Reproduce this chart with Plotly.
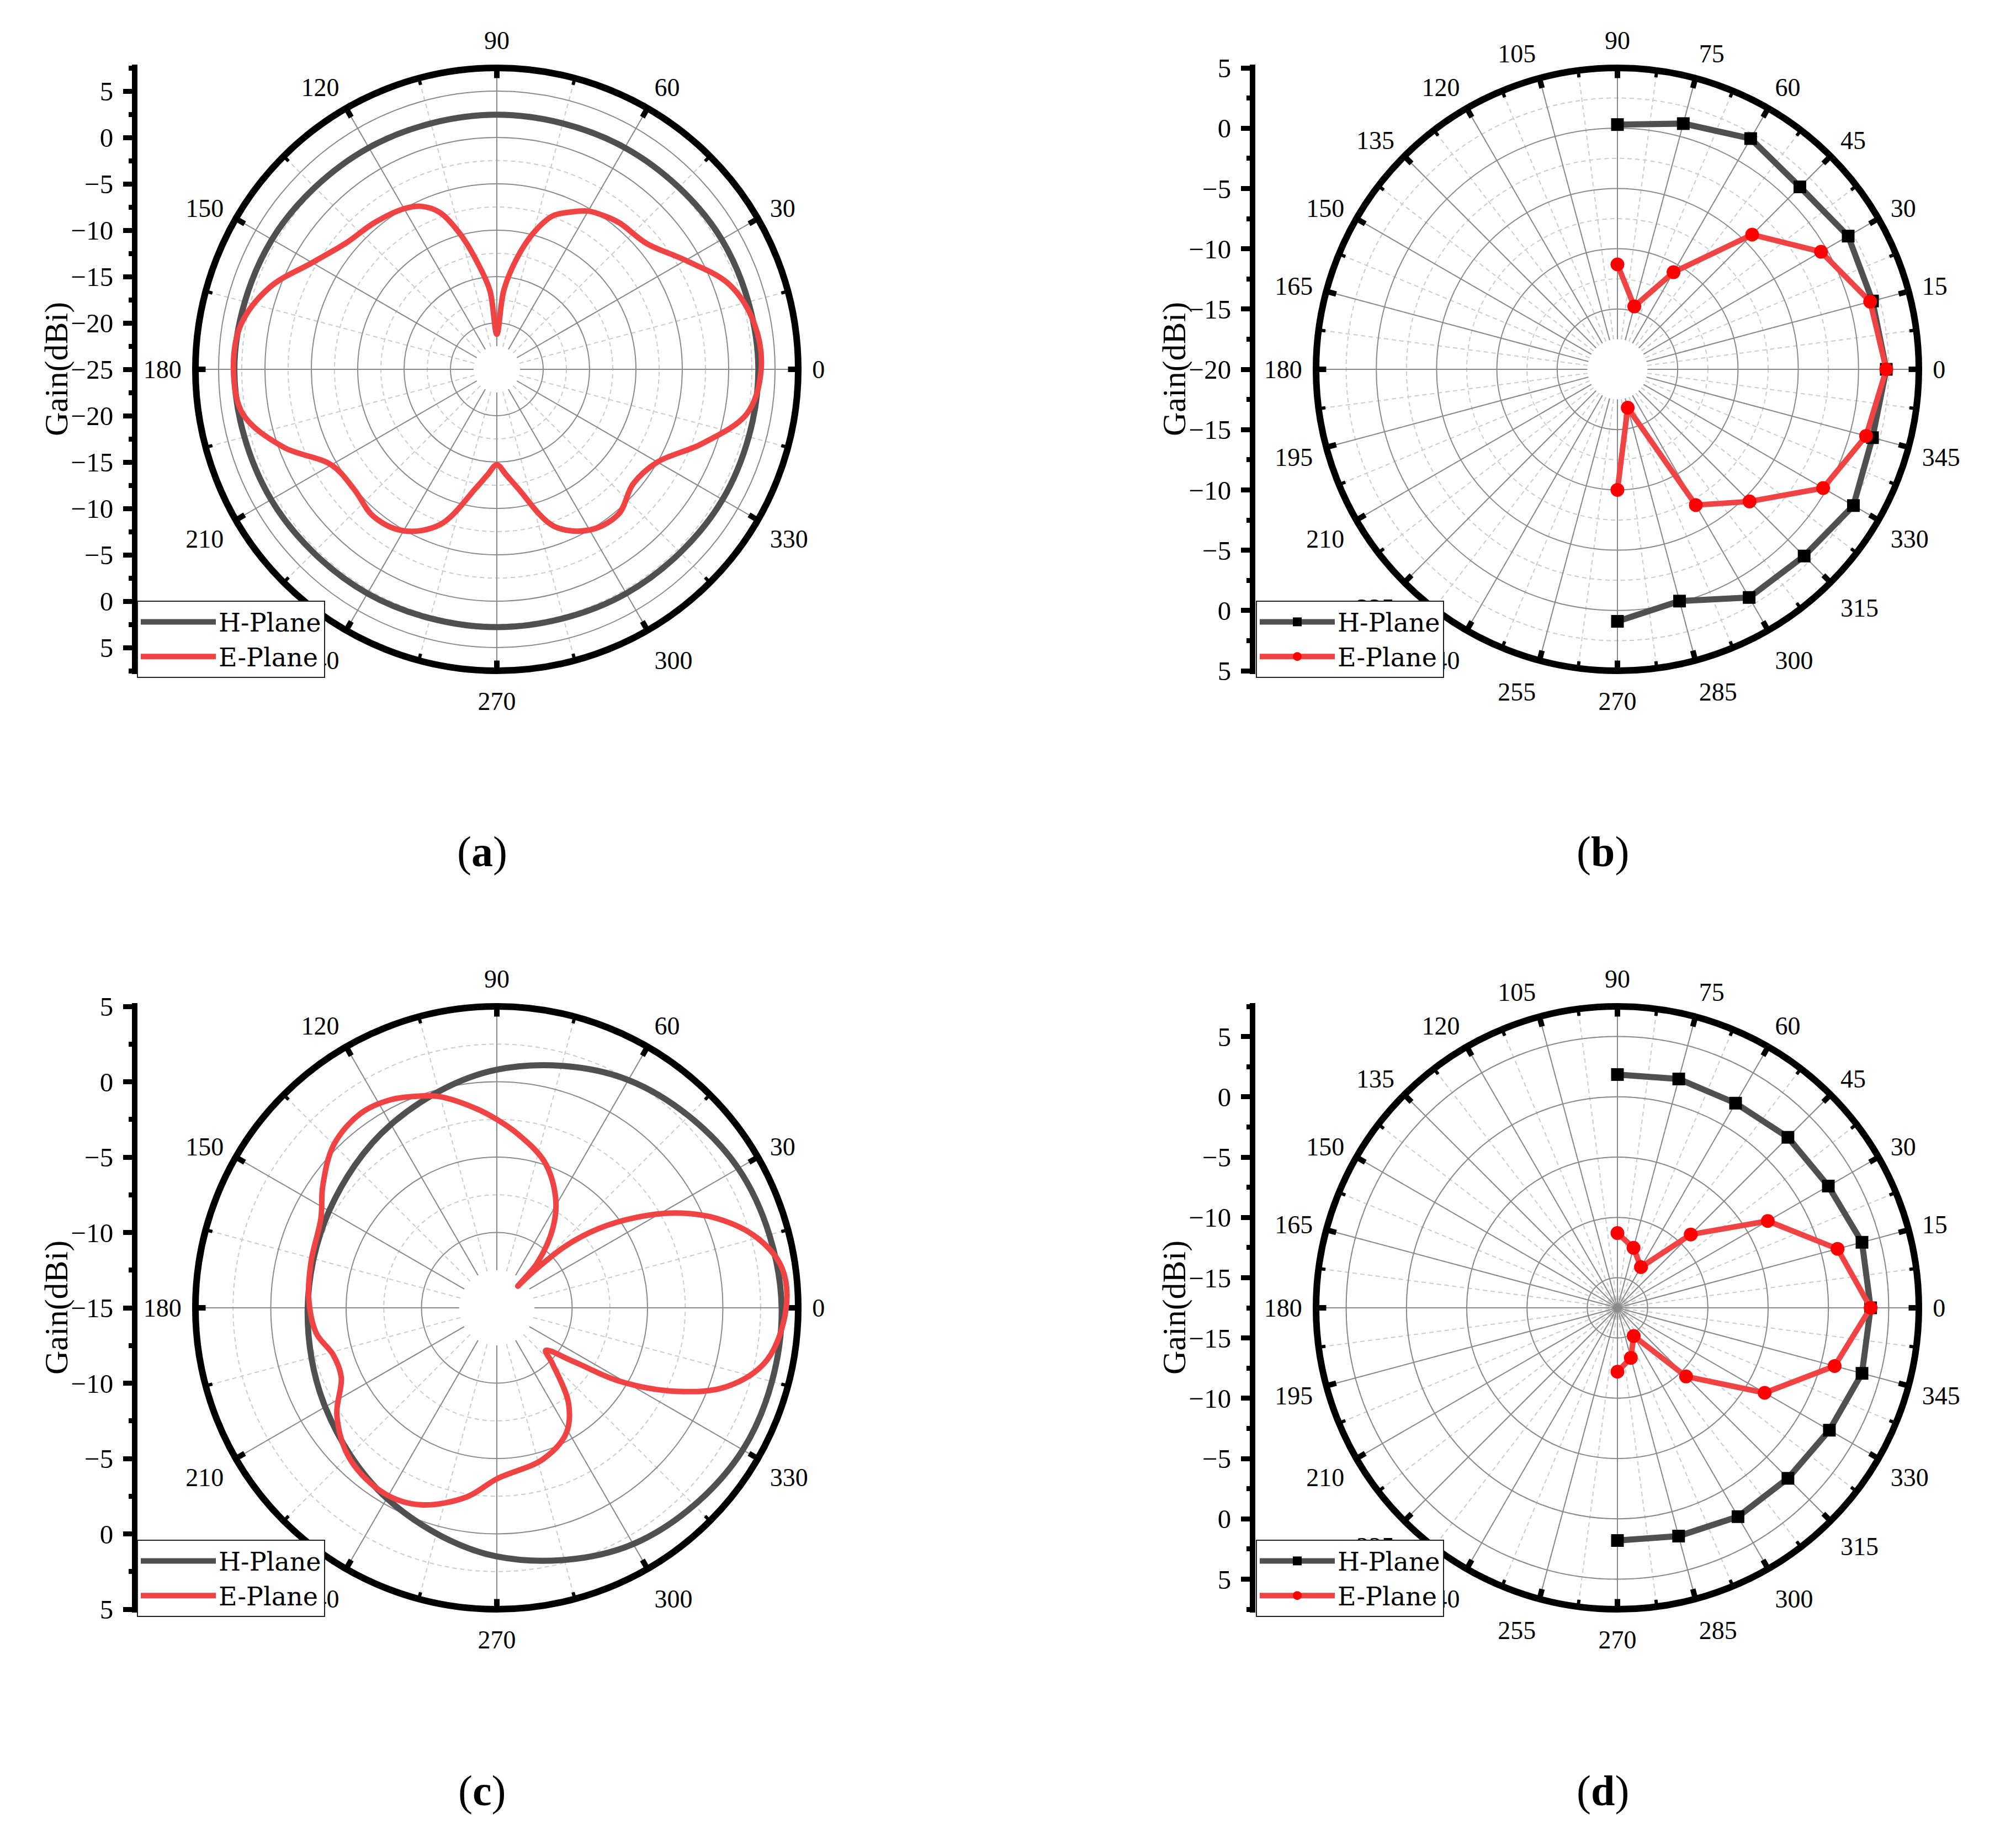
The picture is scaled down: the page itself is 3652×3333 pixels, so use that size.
import plotly.graph_objects as go

W, H = 3652, 3333
OFF = 8  # default page margin around the plot div
FONT = "Liberation Serif"
R = 546  # ring radius in px

# ---------------- data (angle in deg, gain in dBi) ----------------
# (a)
a_h_theta = [0, 30, 60, 90, 120, 150, 180, 210, 240, 270, 300, 330, 360]
a_h_gain = [3.2, 3.0, 2.6, 2.45, 2.6, 3.0, 3.3, 3.1, 2.9, 2.8, 2.9, 3.1, 3.2]
a_e_theta = [0, 10, 20, 30, 40, 50, 55, 60, 65, 70, 75, 80, 85, 90, 95, 100, 105, 110, 115, 120,
             130, 140, 150, 160, 170, 180, 190, 200, 210, 220, 230, 240, 250, 260, 265, 270,
             275, 280, 290, 300, 310, 320, 330, 340, 350, 360]
a_e_gain = [3.5, 3.2, 1.7, -1.5, -3.9, -4.4, -4.8, -5.3, -6.3, -7.4, -9.8, -13.0, -16.5, -21.2,
            -16.5, -13.5, -10.0, -7.0, -5.6, -5.0, -4.4, -3.8, -2.0, 1.0, 3.0, 3.4, 2.8, -0.5,
            -4.4, -4.9, -4.3, -4.9, -7.2, -12.0, -13.6, -14.7, -13.6, -12.0, -7.0, -5.0, -4.6,
            -5.8, -5.0, -1.5, 2.4, 3.5]

# (b)
b_theta = [90, 75, 60, 45, 30, 15, 0, -15, -30, -45, -60, -75, -90]
b_h_gain = [0.3, 1.1, 2.1, 1.4, 2.1, 1.9, 2.3, 1.9, 2.6, 1.9, 1.85, -0.1, 0.9]
b_e_gain = [-11.3, -14.6, -10.7, -4.2, -0.5, 1.7, 2.3, 1.35, -0.3, -4.5, -7.0, -16.7, -10.0]

# (c)
c_h_theta = [0, 30, 60, 90, 120, 150, 180, 210, 240, 270, 300, 330, 360]
c_h_gain = [3.9, 3.5, 2.45, 0.8, -0.95, -2.15, -2.45, -1.85, -0.4, 1.5, 3.1, 3.85, 3.9]
c_e_theta = [0, 8, 15, 22, 28, 33, 38, 42, 45, 46, 48, 55, 62, 72, 83, 90, 96, 105, 110, 117,
             125, 135, 145, 153, 166, 177, 188, 196, 204, 214, 226, 239, 249, 261, 270, 287,
             299, 307, 315, 319, 325, 329, 335, 341, 349, 360]
c_e_gain = [4.2, 4.1, 2.9, 0.8, -1.6, -4.0, -6.5, -8.9, -11.8, -13.0, -11.0, -8.5, -6.7, -4.8,
            -3.4, -2.5, -1.7, -0.5, -0.05, 0.5, 0.75, 0.3, -0.9, -1.9, -2.3, -2.5, -2.9, -3.7,
            -3.7, -2.2, -1.0, -0.6, -1.0, -2.3, -3.65, -4.5, -5.5, -7.1, -9.8, -10.7, -8.8,
            -5.6, -1.9, 1.1, 3.25, 4.2]

# (d)
d_theta = [90, 75, 60, 45, 30, 15, 0, -15, -30, -45, -60, -75, -90]
d_h_gain = [1.85, 2.15, 2.1, 2.5, 2.7, 3.5, 3.5, 3.5, 2.8, 2.5, 2.5, 2.1, 1.8]
d_e_gain = [-11.3, -12.35, -13.6, -8.9, -3.1, 1.4, 3.5, 1.15, -3.4, -9.45, -14.8, -13.2, -12.2]

# left-axis tick labels (mirrored radial scale)
a_axis_vals = [-30, -25, -20, -15, -10, -5, 0, 5, 10, 15, 20, 25, 30]
a_axis_text = ["5", "0", "−5", "−10", "−15", "−20", "−25", "−20", "−15", "−10", "−5", "0", "5"]
b_axis_vals = [-25, -20, -15, -10, -5, 0, 5, 10, 15, 20, 25]
b_axis_text = ["5", "0", "−5", "−10", "−15", "−20", "−15", "−10", "−5", "0", "5"]
c_axis_vals = [-20, -15, -10, -5, 0, 5, 10, 15, 20]
c_axis_text = ["5", "0", "−5", "−10", "−15", "−10", "−5", "0", "5"]
d_axis_vals = [-22.5, -17.5, -12.5, -7.5, -2.5, 2.5, 7.5, 12.5, 17.5, 22.5]
d_axis_text = ["5", "0", "−5", "−10", "−15", "−15", "−10", "−5", "0", "5"]

H_COLOR = "#505050"
E_COLOR = "#f04343"

fig = go.Figure()
layout = {}
annotations = []
polar_count = [0]


def px_x(x):
    return (x - OFF) / W


def px_y(y):
    return 1 - (y - OFF) / H


def new_polar():
    polar_count[0] += 1
    k = polar_count[0]
    return "polar" if k == 1 else "polar%d" % k


def add_panel(n, cx, cy, c, top, hole, major, minor, ax_x, ax_vals, ax_text, minor0,
              h_theta, h_gain, e_theta, e_gain, markers, leg_xy, caption, cap_xy):
    dom = dict(x=[px_x(cx - R), px_x(cx + R)], y=[px_y(cy + R), px_y(cy - R)])
    inner = c + 2.5 if hole else c
    hole_frac = (inner - c) / (top - c)
    dashed_r = [c + 2.5 + 5 * i for i in range(20) if c + 2.5 + 5 * i < top - 0.1]
    solid_r = [v for v in range(-40, 10, 5) if c < v < top - 0.1]
    major_t = [major * i for i in range(int(360 / major))]
    minor_t = [minor * i for i in range(int(360 / minor))]

    # dashed minor grid + minor ring ticks
    p1 = new_polar()
    layout[p1] = dict(
        domain=dom, hole=hole_frac, bgcolor="white",
        radialaxis=dict(range=[inner, top], tickmode="array", tickvals=dashed_r,
                        showticklabels=False, ticks="", showline=False,
                        gridcolor="#cccccc", gridwidth=1.5, griddash="8px,6px"),
        angularaxis=dict(tickmode="array", tickvals=minor_t,
                         showticklabels=False, ticks="inside", ticklen=12, tickwidth=6,
                         tickcolor="black", showline=False,
                         gridcolor="#cccccc", gridwidth=1.5, griddash="8px,6px"),
    )
    fig.add_trace(go.Scatterpolar(r=[None], theta=[None], subplot=p1, showlegend=False,
                                  hoverinfo="skip", mode="lines"))
    # solid major grid + major ring ticks
    p2 = new_polar()
    layout[p2] = dict(
        domain=dom, hole=hole_frac, bgcolor="rgba(0,0,0,0)",
        radialaxis=dict(range=[inner, top], tickmode="array", tickvals=solid_r,
                        showticklabels=False, ticks="", showline=False,
                        gridcolor="#8a8a8a", gridwidth=2),
        angularaxis=dict(tickmode="array", tickvals=major_t,
                         showticklabels=False, ticks="inside", ticklen=18, tickwidth=10,
                         tickcolor="black", showline=False,
                         gridcolor="#8a8a8a", gridwidth=2),
    )
    fig.add_trace(go.Scatterpolar(r=[None], theta=[None], subplot=p2, showlegend=False,
                                  hoverinfo="skip", mode="lines"))
    # data + ring + labels
    p3 = new_polar()
    layout[p3] = dict(
        domain=dom, hole=0, bgcolor="rgba(0,0,0,0)",
        radialaxis=dict(range=[c, top], visible=False),
        angularaxis=dict(tickmode="array", tickvals=major_t, ticktext=[str(v) for v in major_t],
                         ticks="outside", ticklen=10, tickwidth=1, tickcolor="rgba(0,0,0,0)",
                         showline=True, linewidth=12, linecolor="black", showgrid=False,
                         tickfont=dict(family=FONT, size=46, color="black")),
    )
    leg = "legend" if n == 1 else "legend%d" % n
    shape = "linear" if markers else "spline"
    fig.add_trace(go.Scatterpolar(
        r=h_gain, theta=h_theta, subplot=p3, name="H-Plane", legend=leg,
        mode="lines+markers" if markers else "lines",
        line=dict(color=H_COLOR, width=11, shape=shape),
        marker=dict(symbol="square", size=23, color="black"),
    ))
    fig.add_trace(go.Scatterpolar(
        r=e_gain, theta=e_theta, subplot=p3, name="E-Plane", legend=leg,
        mode="lines+markers" if markers else "lines",
        line=dict(color=E_COLOR, width=10, shape=shape),
        marker=dict(symbol="circle", size=25, color="red"),
    ))
    layout[leg] = dict(
        x=px_x(leg_xy[0]), y=px_y(leg_xy[1]), xanchor="left", yanchor="top",
        bgcolor="white", bordercolor="#222222", borderwidth=2, itemwidth=136,
        font=dict(family="DejaVu Serif", size=46, color="black"), tracegroupgap=0,
    )

    # left mirrored gain axis
    scale = R / (top - c)
    span = (R + 6) / scale
    xs = "" if n == 1 else str(n)
    fig.add_trace(go.Scatter(x=[None], y=[None], xaxis="x" + xs, yaxis="y" + xs,
                             showlegend=False, hoverinfo="skip"))
    layout["xaxis" + xs] = dict(domain=[px_x(ax_x + 5), px_x(ax_x + 25)], visible=False,
                                range=[0, 1], anchor="y" + xs)
    layout["yaxis" + xs] = dict(
        domain=[px_y(cy + R + 6), px_y(cy - R - 6)], anchor="x" + xs,
        range=[-span, span], tickmode="array", tickvals=ax_vals, ticktext=ax_text,
        ticks="outside", ticklen=16, tickwidth=9, tickcolor="black",
        showline=True, linewidth=10, linecolor="black", showgrid=False, zeroline=False,
        tickfont=dict(family=FONT, size=49, color="black"), ticklabelstandoff=8,
        minor=dict(ticks="outside", ticklen=6, tickwidth=9, tickcolor="black",
                   tick0=minor0, dtick=2.5),
    )
    annotations.append(dict(text="Gain(dBi)", textangle=-90, x=px_x(ax_x - 142),
                            y=px_y(cy), xref="paper", yref="paper", showarrow=False,
                            xanchor="center", yanchor="middle",
                            font=dict(family=FONT, size=60, color="black")))
    annotations.append(dict(text="(<b>%s</b>)" % caption, x=px_x(cap_xy[0]), y=px_y(cap_xy[1]),
                            xref="paper", yref="paper", showarrow=False,
                            xanchor="center", yanchor="middle",
                            font=dict(family=FONT, size=78, color="black")))


add_panel(1, 900, 669, -25, 7.5, True, 30, 15, 244, a_axis_vals, a_axis_text, 0,
          a_h_theta, a_h_gain, a_e_theta, a_e_gain, False, (248, 1088), "a", (873, 1542))
add_panel(2, 2930, 669, -20, 5, True, 15, 7.5, 2269, b_axis_vals, b_axis_text, 0,
          b_theta, b_h_gain, b_theta, b_e_gain, True, (2275, 1088), "b", (2903, 1542))
add_panel(3, 900, 2369, -15, 5, True, 30, 15, 244, c_axis_vals, c_axis_text, 0,
          c_h_theta, c_h_gain, c_e_theta, c_e_gain, False, (248, 2789), "c", (873, 3243))
add_panel(4, 2930, 2369, -17.5, 7.5, False, 15, 7.5, 2269, d_axis_vals, d_axis_text, 2.5,
          d_theta, d_h_gain, d_theta, d_e_gain, True, (2275, 2789), "d", (2903, 3243))

fig.update_layout(**layout)
fig.update_layout(
    width=W, height=H, margin=dict(l=0, r=0, t=0, b=0, autoexpand=False),
    paper_bgcolor="white", plot_bgcolor="rgba(0,0,0,0)",
    annotations=annotations, font=dict(family=FONT, color="black"),
)

fig.write_html("out.html")
